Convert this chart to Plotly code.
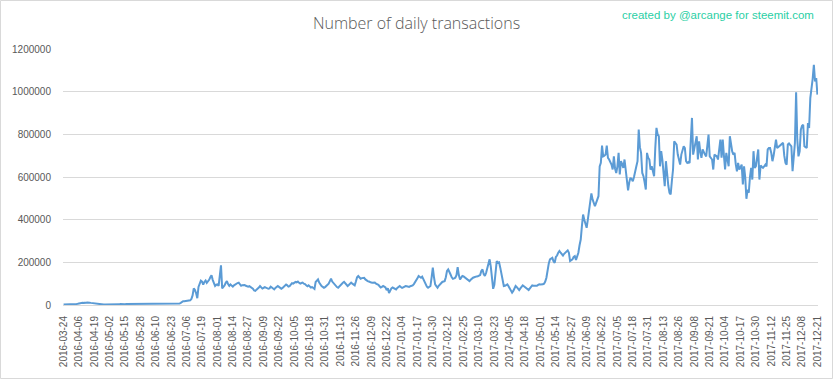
import pandas as pd
import plotly.graph_objects as go

# Daily transaction counts (thousands)
tx_k_2016 = [
    2, 2, 3, 2, 3, 3, 2, 3, 3, 4, 4, 5, 6,
    8, 10, 9, 11, 10, 9, 11, 12, 10, 11, 10, 9, 8,
    7, 6, 5, 5, 4, 4, 3, 3, 2, 2, 2, 1, 1,
    1, 1, 1, 1, 1, 2, 2, 2, 3, 5, 4, 4, 5,
    4, 5, 5, 5, 5, 5, 5, 5, 5, 6, 5, 5, 5,
    5, 5, 5, 6, 5, 5, 5, 5, 5, 5, 5, 5, 5,
    5, 5, 5, 5, 5, 5, 5, 5, 5, 5, 5, 5, 6,
    6, 6, 6, 6, 6, 6, 6, 7, 10, 16, 18,
    18, 19, 20, 20, 21, 22, 28, 45, 78, 70, 55, 32, 85, 102, 114,
    110, 95, 108, 115, 104, 110, 118, 130, 140, 118, 100, 89, 95,
    97, 90, 150, 186, 78, 84, 92, 104, 112, 98, 90, 96, 92,
    86, 92, 97, 100, 103, 105, 97, 90, 93, 95, 94, 90, 88,
    86, 88, 84, 81, 76, 68, 66, 72, 76, 82, 89, 84, 77,
    80, 84, 81, 78, 76, 78, 86, 82, 78, 73, 80, 86, 89,
    85, 80, 76, 80, 84, 90, 96, 92, 86, 88, 96, 102, 100,
    104, 108, 106, 110, 104, 100, 103, 105, 100, 98, 92, 88, 92,
    86, 82, 84, 78, 75,
    108, 115, 120, 105, 95, 89, 85, 81, 84, 88, 92, 100, 112,
    123, 110, 102, 97, 90, 84, 81, 88, 95, 99, 104, 108, 102,
    95, 89, 94, 100, 105, 100, 96, 92, 110, 130, 136, 128, 123,
    126, 128, 127, 120, 115, 112, 110, 106, 105, 104, 106, 105, 100,
    98, 95, 88, 82, 85, 89, 86, 82, 70, 78, 56, 70, 78,
    82, 78, 75, 73, 80,
]

tx_k_2017 = [
    86, 89, 84, 80, 83, 87, 89, 88, 86, 85, 88, 90, 92,
    98, 106, 112, 125, 136, 130, 128, 133, 120, 105, 95, 86, 81,
    85, 89, 130, 175, 130, 97, 88, 81, 90, 98, 105, 108, 110,
    112, 130, 160, 167, 150, 143, 130, 123, 125, 128, 140, 178, 140,
    120, 128, 136, 134, 130, 128, 124, 118, 112, 118, 124, 128, 130,
    133, 134, 135, 136, 140, 160, 167, 145, 136, 150, 175, 200, 214,
    180, 110, 76, 95, 160, 206, 198, 200, 175, 143, 110, 89, 90,
    94, 97, 88, 75, 65, 58, 66, 78, 89, 84, 76, 70, 78,
    86, 92, 88, 84, 81, 76, 70, 78, 86, 92, 90, 89, 89,
    90, 94, 97,
    96, 95, 97, 100, 110, 128, 170, 195, 214, 218, 221, 205, 198,
    225, 232, 245, 253, 245, 235, 232, 240, 245, 252, 256, 245, 206,
    210, 214, 225, 229, 211, 228, 245, 280, 307, 370, 424, 400, 385,
    362, 400, 448, 490, 523, 495, 475, 463, 479, 495, 510, 650, 666,
    747, 697, 700, 705, 747, 690, 682, 670, 658, 635, 697, 640, 619,
    650, 713, 612, 674, 660, 643, 682, 640, 588, 537, 575, 596, 590,
    580, 600, 619, 650, 674, 822, 740, 713, 619, 604, 575, 541, 713,
    690, 682, 635, 650, 625, 604, 736, 830, 800, 791, 650, 721, 680,
    627, 557, 674, 604, 560, 526, 518, 580, 635, 767, 760, 752, 705,
    680, 658, 705, 730, 744, 736, 674, 666, 670, 666, 780, 877, 705,
    729, 760, 791, 682, 767, 720, 690, 729, 715, 705, 697, 750, 799,
    697, 690, 682, 635, 705, 700, 697, 682, 740, 775, 690, 775, 700,
    635, 713, 680, 650, 791, 744, 720, 705, 713, 660, 627, 666, 635,
    645, 658, 565, 650, 600, 498, 541, 526, 600, 643, 588, 721, 643,
    650, 690, 729, 588, 654, 648, 643, 650, 658, 650, 729, 736, 736,
    713, 674, 700, 744, 775, 736, 740, 744, 752, 756, 760, 700, 666,
    658, 752, 757, 750, 744, 627, 700, 760, 997, 775, 697, 720, 822,
    840, 845, 744, 740, 736, 853, 830, 970, 1009, 1060, 1126, 1048, 1064,
    986,
]

start_date = "2016-03-24"
tick_step_days = 13
y_ticks = [0, 200000, 400000, 600000, 800000, 1000000, 1200000]
title_text = "Number of daily transactions"
credit_text = "created by @arcange for steemit.com"

values = [v * 1000 for v in tx_k_2016 + tx_k_2017]
dates = pd.date_range(start_date, periods=len(values), freq="D")

W, H = 833, 379
ml, mr, mt, mb = 63, 15, 49, 74
pw, ph = W - ml - mr, H - mt - mb

fig = go.Figure()
fig.add_trace(go.Scatter(
    x=dates, y=values, mode="lines",
    line=dict(color="#5b9bd5", width=2),
    hoverinfo="skip", showlegend=False,
))

half_day = pd.Timedelta(hours=12)
fig.update_layout(
    width=W, height=H,
    margin=dict(l=ml, r=mr, t=mt, b=mb, pad=0, autoexpand=False),
    paper_bgcolor="white", plot_bgcolor="white",
    font=dict(family="Liberation Sans, Arial, sans-serif", color="#595959", size=10),
    title=dict(text=title_text, x=0.5, xanchor="center", y=1 - 23 / H, yanchor="middle",
               font=dict(size=16, color="#595959", family="Open Sans, Liberation Sans, sans-serif",
                         weight=300)),
    xaxis=dict(
        type="date", automargin=False,
        range=[dates[0] - half_day, dates[-1] + half_day],
        tick0=start_date, dtick=tick_step_days * 86400000,
        tickformat="%Y-%m-%d", tickangle=-90,
        showgrid=False, zeroline=False,
        showline=True, linecolor="#d9d9d9", linewidth=1,
        ticks="", ticklabelstandoff=6,
        tickfont=dict(size=10, color="#595959"),
    ),
    yaxis=dict(
        automargin=False,
        range=[0, 1200000],
        tickvals=y_ticks, ticktext=[str(v) for v in y_ticks],
        showgrid=True, gridcolor="#d9d9d9", gridwidth=1,
        zeroline=False, showline=False, ticks="",
        ticklabelstandoff=11,
        tickfont=dict(size=10, color="#595959"),
    ),
    annotations=[dict(
        text=credit_text, xref="paper", yref="paper",
        x=(816 - ml) / pw, y=1 + (mt - 15) / ph, xanchor="right", yanchor="middle",
        showarrow=False, font=dict(size=11.5, color="#2bcfa5"),
    )],
    shapes=[dict(
        type="rect", xref="paper", yref="paper",
        x0=(0.5 - ml) / pw, x1=(W - 0.5 - ml) / pw,
        y0=-(mb - 0.5) / ph, y1=1 + (mt - 0.5) / ph,
        line=dict(color="#d9d9d9", width=1), fillcolor="rgba(0,0,0,0)", layer="below",
    )],
)

fig.write_html(
    "out.html",
    config={"displayModeBar": False, "staticPlot": True},
    post_script="document.body.style.margin='0';document.body.style.padding='0';",
)
